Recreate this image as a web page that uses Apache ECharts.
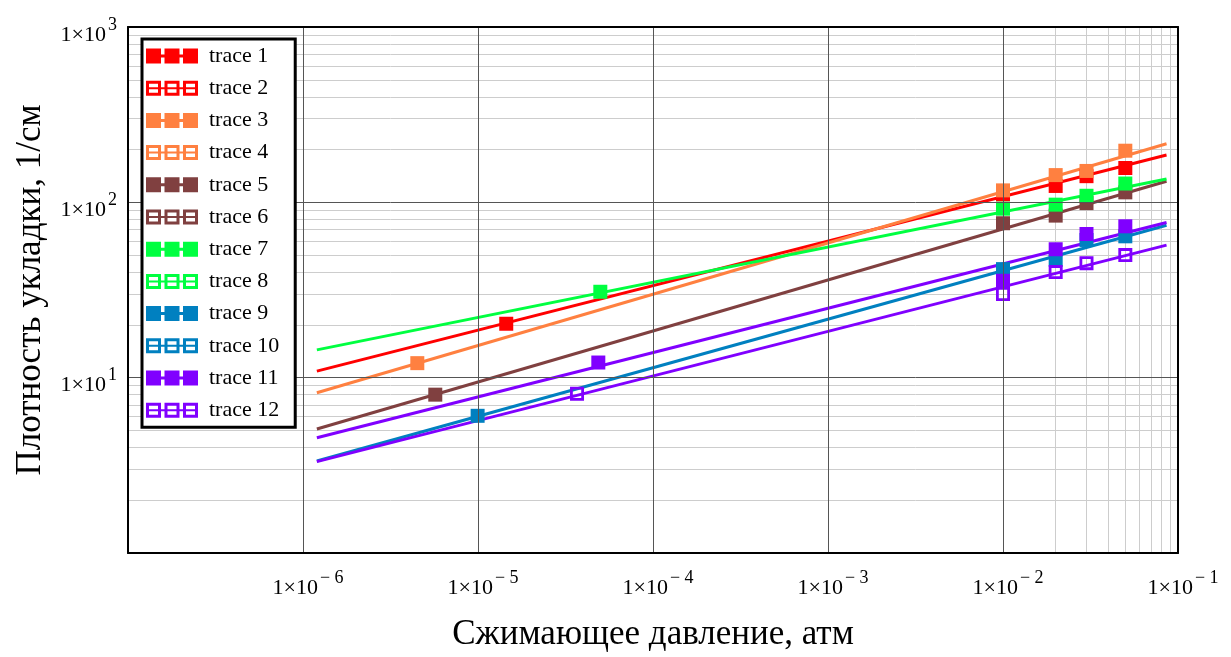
<!DOCTYPE html>
<html>
<head>
<meta charset="utf-8">
<script src="https://cdn.jsdelivr.net/npm/echarts@6/dist/echarts.min.js"></script>
<style>
  html, body { margin: 0; padding: 0; background: #fff; }
  #chart { width: 1231px; height: 657px; }
</style>
</head>
<body>
<div id="chart"></div>
<script>
// axis ranges (log scale)
var xRange = [1e-7, 1e-1];
var yRange = [1, 1000];

var names = ['trace 1', 'trace 2', 'trace 3', 'trace 4', 'trace 5', 'trace 6',
  'trace 7', 'trace 8', 'trace 9', 'trace 10', 'trace 11', 'trace 12'];
var colors = ['#ff0000', '#ff0000', '#ff8040', '#ff8040', '#804040', '#804040',
  '#00ff40', '#00ff40', '#0080c0', '#0080c0', '#8000ff', '#8000ff'];

// measured points (filled squares)
var trace1 = [[1.45e-5, 20.3], [1e-2, 111], [2e-2, 124], [3e-2, 141], [5e-2, 157]];
var trace3 = [[4.5e-6, 12.1], [1e-2, 117], [2e-2, 143], [3e-2, 151], [5e-2, 197]];
var trace5 = [[5.7e-6, 8.0], [1e-2, 76], [2e-2, 84], [3e-2, 99], [5e-2, 114]];
var trace7 = [[5.0e-5, 30.9], [1e-2, 92], [2e-2, 97], [3e-2, 109], [5e-2, 128]];
var trace9 = [[9.95e-6, 6.06], [1e-2, 41.6], [2e-2, 47], [3e-2, 61], [5e-2, 64]];
var trace11 = [[4.87e-5, 12.2], [1e-2, 35.7], [2e-2, 54], [3e-2, 66], [5e-2, 73]];
// open squares
var trace12 = [[3.68e-5, 8.1], [1e-2, 30], [2e-2, 40], [3e-2, 45], [5e-2, 50]];

// fitted lines (end points)
var trace2 = [[1.2e-6, 10.9], [8.6e-2, 186]];
var trace4 = [[1.2e-6, 8.2], [8.6e-2, 216]];
var trace6 = [[1.2e-6, 5.1], [8.6e-2, 132]];
var trace8 = [[1.2e-6, 14.4], [8.6e-2, 136]];
var trace10 = [[1.2e-6, 3.35], [8.6e-2, 74]];
var fit11 = [[1.2e-6, 4.54], [8.6e-2, 76.7]];
var fit12 = [[1.2e-6, 3.32], [8.6e-2, 57]];

var font = 'Liberation Serif';

var iconFilled = 'path://M0,0H15V15H0Z M15,6H18.5V9H15Z M18.5,0H33.5V15H18.5Z M33.5,6H37V9H33.5Z M37,0H52V15H37Z';
var iconOpen = 'path://M0,0H15V15H0Z M3,3V12H12V3Z M18.5,0H33.5V15H18.5Z M21.5,3V12H30.5V3Z M37,0H52V15H37Z M40,3V12H49V3Z M0,6.5H52V8.5H0Z';
var openSquare = 'path://M0,0H10V10H0Z M2,2V8H8V2Z';

// minor grid lines at 2..9 x 10^k
function minorLines(from, to, axis) {
  var out = [];
  for (var k = from; k < to; k++) {
    for (var m = 2; m <= 9; m++) {
      var o = {};
      o[axis] = m * Math.pow(10, k);
      out.push(o);
    }
  }
  return out;
}

var series = [];

series.push({
  type: 'line', data: [], silent: true, z: 1,
  markLine: {
    silent: true, symbol: 'none', label: { show: false }, z: 1,
    lineStyle: { color: '#cdcdcd', width: 1, type: 'solid' },
    animation: false,
    data: minorLines(-7, -1, 'xAxis').concat(minorLines(0, 3, 'yAxis'))
  }
});

function pts(name, data, color, symbol) {
  series.push({
    name: name, type: 'scatter', data: data, symbol: symbol, symbolSize: 14,
    itemStyle: { color: color, opacity: 1 }, z: 3
  });
}
function fit(name, data, color) {
  series.push({
    name: name, type: 'line', data: data, showSymbol: false, symbol: 'none',
    lineStyle: { color: color, width: 3 }, itemStyle: { color: color }, z: 2
  });
}

pts('trace 1', trace1, colors[0], 'rect');
fit('trace 2', trace2, colors[1]);
pts('trace 3', trace3, colors[2], 'rect');
fit('trace 4', trace4, colors[3]);
pts('trace 5', trace5, colors[4], 'rect');
fit('trace 6', trace6, colors[5]);
pts('trace 7', trace7, colors[6], 'rect');
fit('trace 8', trace8, colors[7]);
pts('trace 9', trace9, colors[8], 'rect');
fit('trace 10', trace10, colors[9]);
pts('trace 11', trace11, colors[10], 'rect');
fit('trace 11', fit11, colors[10]);
pts('trace 12', trace12, colors[11], openSquare);
fit('trace 12', fit12, colors[11]);

var chart = echarts.init(document.getElementById('chart'));

var labelRich = {
  b: { fontFamily: font, fontSize: 22, color: '#000', lineHeight: 30, verticalAlign: 'bottom' },
  s: { fontFamily: font, fontSize: 18, color: '#000', lineHeight: 10, verticalAlign: 'top', padding: [0, 0, 0, 2] }
};
var xLabelRich = {
  b: { fontFamily: font, fontSize: 22, color: '#000', lineHeight: 30, verticalAlign: 'bottom', padding: [0, 0, 0, 10] },
  s: labelRich.s
};

var option = {
  animation: false,
  backgroundColor: '#fff',
  grid: { left: 128, right: 53, top: 27, bottom: 100, show: false },
  legend: {
    orient: 'vertical', left: 142, top: 39, z: 6,
    padding: [6, 16, 6, 4],
    itemWidth: 54, itemHeight: 15, itemGap: 10.2,
    backgroundColor: '#fff', borderColor: '#000', borderWidth: 3, borderRadius: 0,
    textStyle: { fontFamily: font, fontSize: 22, color: '#000', padding: [0, 0, 0, 5] },
    itemStyle: { borderWidth: 0 },
    data: names.map(function (n, i) {
      return { name: n, icon: i % 2 === 0 ? iconFilled : iconOpen, itemStyle: { color: colors[i], borderWidth: 0 } };
    })
  },
  xAxis: [{
    type: 'log', logBase: 10, min: xRange[0], max: xRange[1],
    name: 'Сжимающее давление, атм', nameLocation: 'middle', nameGap: 64,
    nameTextStyle: { fontFamily: font, fontSize: 35, color: '#000' },
    axisLine: { show: true, lineStyle: { color: '#000', width: 2 } },
    axisTick: { show: false },
    splitLine: { show: true, lineStyle: { color: '#555', width: 1 } },
    axisLabel: {
      margin: 16, rich: xLabelRich,
      formatter: function (v) {
        var e = Math.round(Math.log10(v));
        if (e < -6) return '';
        return '{b|1×10}{s|− ' + (-e) + '}';
      }
    },
    z: 5
  }, {
    type: 'log', logBase: 10, min: xRange[0], max: xRange[1], position: 'top',
    axisLine: { show: true, lineStyle: { color: '#000', width: 2 } },
    axisTick: { show: false }, axisLabel: { show: false }, splitLine: { show: false }, z: 5
  }],
  yAxis: [{
    type: 'log', logBase: 10, min: yRange[0], max: yRange[1],
    name: 'Плотность укладки, 1/см', nameLocation: 'middle', nameGap: 80,
    nameTextStyle: { fontFamily: font, fontSize: 35, color: '#000' },
    axisLine: { show: true, lineStyle: { color: '#000', width: 2 } },
    axisTick: { show: false },
    splitLine: { show: true, lineStyle: { color: '#555', width: 1 } },
    axisLabel: {
      margin: 11, rich: labelRich, padding: [8, 0, 0, 0],
      formatter: function (v) {
        var e = Math.round(Math.log10(v));
        if (e < 1) return '';
        return '{b|1×10}{s|' + e + '}';
      }
    },
    z: 5
  }, {
    type: 'log', logBase: 10, min: yRange[0], max: yRange[1], position: 'right',
    axisLine: { show: true, lineStyle: { color: '#000', width: 2 } },
    axisTick: { show: false }, axisLabel: { show: false }, splitLine: { show: false }, z: 5
  }],
  series: series
};

chart.setOption(option);
</script>
</body>
</html>
